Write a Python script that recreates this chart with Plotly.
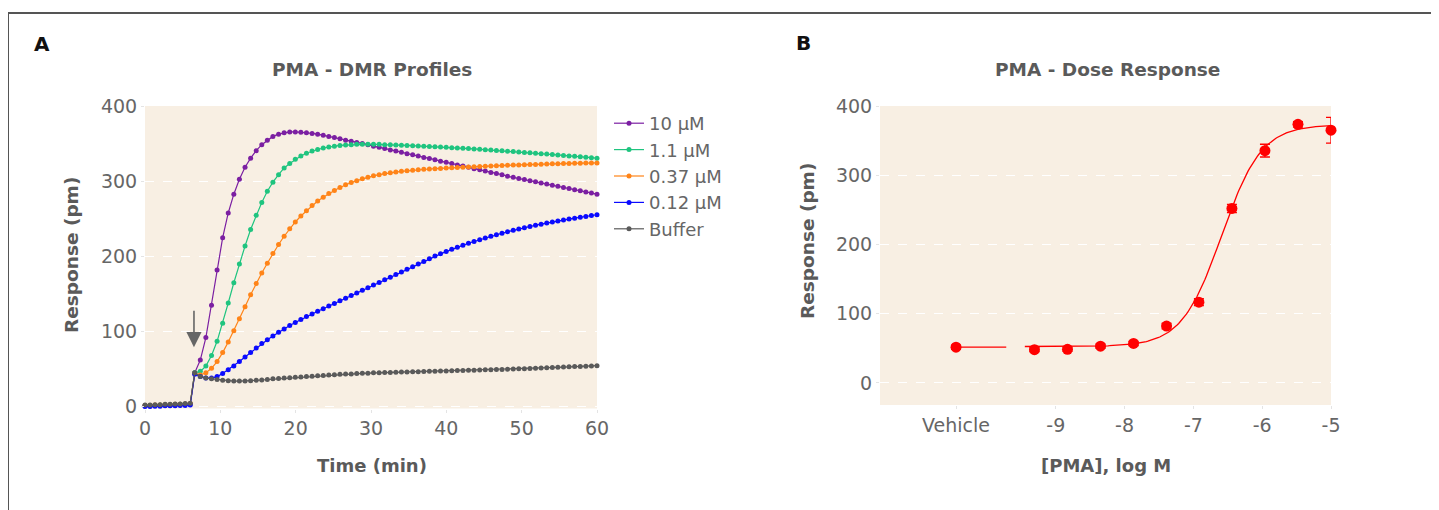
import plotly.graph_objects as go
import numpy as np

# page body has an 8 px margin; the figure is drawn 8 px in from the top-left
OX, OY = 8, 8
W, H = 1431, 502

# ---------------- Panel A data ----------------
time_baseline = [0.0, 0.67, 1.33, 2.0, 2.67, 3.33, 4.0, 4.67, 5.33, 6.0]
time_post = [6.60, 7.34, 8.08, 8.83, 9.57, 10.31, 11.05, 11.79, 12.53, 13.28,
             14.02, 14.76, 15.50, 16.24, 16.98, 17.73, 18.47, 19.21, 19.95, 20.69,
             21.43, 22.18, 22.92, 23.66, 24.40, 25.14, 25.88, 26.63, 27.37, 28.11,
             28.85, 29.59, 30.33, 31.08, 31.82, 32.56, 33.30, 34.04, 34.78, 35.53,
             36.27, 37.01, 37.75, 38.49, 39.23, 39.98, 40.72, 41.46, 42.20, 42.94,
             43.68, 44.43, 45.17, 45.91, 46.65, 47.39, 48.13, 48.88, 49.62, 50.36,
             51.10, 51.84, 52.58, 53.33, 54.07, 54.81, 55.55, 56.29, 57.03, 57.78,
             58.52, 59.26, 60.00]

series_names = ["10 µM", "1.1 µM", "0.37 µM", "0.12 µM", "Buffer"]

pma_10uM_base = [1, 1, 1.5, 1.5, 2, 2, 2.5, 2.5, 3, 3.5]
pma_10uM_post = [45, 62, 92, 135, 182, 225, 258, 283, 303, 319,
                 331, 341, 349, 355, 360, 363, 365, 366, 366, 365.5,
                 365, 364, 363, 361.5, 360, 358.5, 357, 355, 353.5, 352,
                 350.5, 349, 347, 345.5, 344, 342, 340.5, 339, 337, 335.5,
                 334, 332, 330.5, 329, 327, 325.5, 324, 322, 320.5, 319,
                 317, 315.5, 314, 312, 310.5, 309, 307, 305.5, 304, 302.5,
                 301, 299.5, 298, 296.5, 295, 293.5, 292, 290.5, 289, 287.5,
                 286, 284.5, 283]

pma_1_1uM_base = [1, 1.5, 1.5, 2, 2, 2.5, 2.5, 3, 3, 3.5]
pma_1_1uM_post = [45, 47, 54, 68, 87, 111, 138, 165, 190, 214,
                  236, 255, 272, 287, 299, 309, 318, 324, 329.5, 334,
                  337.5, 340.5, 342.5, 344.5, 346, 347, 348, 348.5, 349, 349.5,
                  349.5, 349.5, 349.5, 349.5, 349, 349, 348.5, 348.3, 348, 347.7,
                  347.3, 347, 346.6, 346.3, 346, 345.5, 345, 344.6, 344.2, 343.8,
                  343.3, 342.8, 342.3, 341.8, 341.3, 340.8, 340.3, 339.8, 339.3, 338.7,
                  338.1, 337.5, 337, 336.4, 335.8, 335.2, 334.6, 334, 333.4, 332.8,
                  332.2, 331.6, 331]

pma_0_37uM_base = [1.5, 1.5, 2, 2, 2.5, 2.5, 3, 3, 3.5, 4]
pma_0_37uM_post = [44, 42, 45, 51, 60, 72, 86, 101, 117, 133,
                   149, 164, 178, 191, 204, 216, 227, 237, 246, 254,
                   261, 268, 274, 279, 284, 288, 292, 295.5, 298.5, 301,
                   303.5, 305.5, 307.5, 309, 310.5, 311.5, 312.5, 313.5, 314.3, 315,
                   315.6, 316.1, 316.6, 317, 317.4, 317.8, 318.2, 318.6, 319, 319.3,
                   319.6, 320, 320.3, 320.6, 320.9, 321.2, 321.5, 321.8, 322, 322.3,
                   322.5, 322.7, 323, 323.2, 323.4, 323.6, 323.8, 324, 324.1, 324.3,
                   324.4, 324.5, 324.6]

pma_0_12uM_base = [0, 0, 0.5, 0.5, 1, 1, 1, 1.5, 1.5, 2]
pma_0_12uM_post = [43, 40, 38, 38, 40, 44, 49, 54, 60, 66,
                   72, 78, 84, 89, 94, 99, 103.5, 108, 112, 116,
                   120, 123.5, 127, 130.5, 134, 137.5, 141, 144.5, 148, 151.5,
                   155, 158.5, 162, 165.5, 169, 172.5, 176, 179.5, 183, 186.5,
                   190, 193.5, 197, 200.5, 203.5, 206.5, 209.5, 212.3, 215, 217.6,
                   220, 222.4, 224.7, 226.9, 229, 231, 233, 234.9, 236.7, 238.4,
                   240, 241.6, 243.1, 244.6, 246, 247.3, 248.6, 249.9, 251.1, 252.3,
                   253.4, 254.5, 255.6]

buffer_base = [2, 2, 2.5, 2.5, 3, 3, 3.5, 3.5, 4, 4.5]
buffer_post = [45, 40, 38, 37, 36, 35, 34.5, 34, 34, 34,
               34.5, 35, 35.5, 36, 37, 37.5, 38, 38.5, 39, 39.5,
               40, 40.5, 41, 41.5, 42, 42.5, 43, 43.3, 43.6, 44,
               44.3, 44.6, 45, 45.2, 45.4, 45.6, 45.8, 46, 46.2, 46.4,
               46.6, 46.8, 47, 47.2, 47.4, 47.6, 47.8, 48, 48.2, 48.4,
               48.6, 48.8, 49, 49.2, 49.4, 49.6, 49.8, 50, 50.3, 50.6,
               50.9, 51.2, 51.5, 51.8, 52.1, 52.4, 52.7, 53, 53.3, 53.6,
               53.9, 54.2, 54.5]

series_colors = ["#7b1fa2", "#1fc47f", "#ff8418", "#0a0aff", "#5a5a5a"]

time_ticks = [0, 10, 20, 30, 40, 50, 60]
response_ticks = [0, 100, 200, 300, 400]

injection_time = 6.5
arrow_tip_response = 79

# ---------------- Panel B data ----------------
log_conc = [-9.31, -8.83, -8.35, -7.87, -7.39, -6.92, -6.44, -5.96, -5.48, -5.0]
dose_response = [48, 48.5, 53, 57, 82, 116.5, 252, 335.5, 373.5, 365]
dose_sem = [3, 3, 3, 3, 4, 5, 6, 9.2, 4, 18.5]
vehicle_response = 51.5
vehicle_sem = 3
log_ticks = [-9, -8, -7, -6, -5]
log_tick_labels = ["-9", "-8", "-7", "-6", "-5"]

# four-parameter logistic fit (parameters)
fit_bottom = 52.5
fit_top = 373.0
fit_log_ec50 = -6.59
fit_hill = 1.5
fit_start = -9.45
fit_end = -5.0

# layout positions
vehicle_x = -10.45
vehicle_line_end = -9.72

FONT = "DejaVu Sans"
TICK_COLOR = "#666666"
TITLE_COLOR = "#5a5a5a"
BG = "#f8efe3"

fig = go.Figure()

all_base = [pma_10uM_base, pma_1_1uM_base, pma_0_37uM_base, pma_0_12uM_base, buffer_base]
all_post = [pma_10uM_post, pma_1_1uM_post, pma_0_37uM_post, pma_0_12uM_post, buffer_post]
for name, col, b, p in zip(series_names, series_colors, all_base, all_post):
    fig.add_trace(go.Scatter(
        x=time_baseline + time_post, y=b + p, name=name,
        mode="lines+markers", line=dict(color=col, width=1.2),
        marker=dict(color=col, size=5), cliponaxis=False,
        xaxis="x", yaxis="y"))

# Panel B
fit_x = np.linspace(fit_start, fit_end, 200)
fit_y = fit_bottom + (fit_top - fit_bottom) / (1 + 10 ** ((fit_log_ec50 - fit_x) * fit_hill))
fig.add_trace(go.Scatter(x=fit_x, y=fit_y, mode="lines", line=dict(color="#ff0000", width=1.3),
                         showlegend=False, xaxis="x2", yaxis="y2", cliponaxis=False))
fig.add_trace(go.Scatter(x=[vehicle_x, vehicle_line_end], y=[vehicle_response, vehicle_response],
                         mode="lines", line=dict(color="#ff0000", width=1.3),
                         showlegend=False, xaxis="x2", yaxis="y2"))
fig.add_trace(go.Scatter(x=[vehicle_x] + log_conc, y=[vehicle_response] + dose_response,
                         mode="markers", marker=dict(color="#ff0000", size=11),
                         error_y=dict(type="data", array=[vehicle_sem] + dose_sem,
                                      color="#ff0000", thickness=1.3, width=5),
                         showlegend=False, xaxis="x2", yaxis="y2", cliponaxis=False))

def fx(p):
    return (p - OX) / W

def fy(p):
    return 1 - (p - OY) / H

tickfont = dict(family=FONT, size=19, color=TICK_COLOR)
axis_common = dict(showline=False, zeroline=False, ticks="outside", ticklen=3,
                   tickcolor="#e4e4e4", tickfont=tickfont, automargin=False)

fig.update_layout(
    width=W, height=H, margin=dict(l=0, r=0, t=0, b=0),
    paper_bgcolor="white", plot_bgcolor=BG,
    xaxis=dict(domain=[fx(145), fx(597)], range=[0, 60], tickvals=time_ticks,
               showgrid=False, anchor="y", **axis_common),
    yaxis=dict(domain=[fy(408.5), fy(106)], range=[-2.5, 400.5], tickvals=response_ticks,
               showgrid=True, gridcolor="white", griddash="dash", gridwidth=1,
               anchor="x", **axis_common),
    xaxis2=dict(domain=[fx(880), fx(1331)], range=[-11.555, -5.0],
                tickvals=[vehicle_x] + log_ticks, ticktext=["Vehicle"] + log_tick_labels,
                showgrid=False, anchor="y2", **axis_common),
    yaxis2=dict(domain=[fy(405), fy(106)], range=[-32, 400], tickvals=response_ticks,
                showgrid=True, gridcolor="white", griddash="dash", gridwidth=1,
                anchor="x2", **axis_common),
    legend=dict(x=fx(609), y=fy(105), xanchor="left", yanchor="top",
                font=dict(family=FONT, size=18, color=TICK_COLOR),
                bgcolor="rgba(0,0,0,0)", borderwidth=0),
    font=dict(family=FONT),
)

annots = [
    dict(text="<b>A</b>", x=fx(42), y=fy(44), font=dict(size=20, color="#111111")),
    dict(text="<b>B</b>", x=fx(803), y=fy(43), font=dict(size=20, color="#111111")),
    dict(text="<b>PMA - DMR Profiles</b>", x=fx(372), y=fy(69), font=dict(size=18.5, color=TITLE_COLOR)),
    dict(text="<b>PMA - Dose Response</b>", x=fx(1107), y=fy(69), font=dict(size=18.5, color=TITLE_COLOR)),
    dict(text="<b>Time (min)</b>", x=fx(372), y=fy(465), font=dict(size=18, color=TITLE_COLOR)),
    dict(text="<b>[PMA], log M</b>", x=fx(1106), y=fy(465), font=dict(size=18, color=TITLE_COLOR)),
    dict(text="<b>Response (pm)</b>", x=fx(71), y=fy(255), textangle=-90, font=dict(size=18.5, color=TITLE_COLOR)),
    dict(text="<b>Response (pm)</b>", x=fx(807), y=fy(241), textangle=-90, font=dict(size=18.5, color=TITLE_COLOR)),
]
for a in annots:
    a.update(xref="paper", yref="paper", showarrow=False, xanchor="center", yanchor="middle")
    a["font"]["family"] = FONT
    fig.add_annotation(**a)

fig.add_annotation(x=injection_time, y=arrow_tip_response, xref="x", yref="y",
                   ax=0, ay=-38, showarrow=True, arrowhead=2, arrowsize=1.9,
                   arrowwidth=1.6, arrowcolor="#666666", text="")

# frame lines (top and left)
fig.add_shape(type="line", xref="paper", yref="paper", x0=fx(8), x1=1, y0=fy(13), y1=fy(13),
              line=dict(color="#555555", width=2))
fig.add_shape(type="line", xref="paper", yref="paper", x0=fx(8), x1=fx(8), y0=fy(13), y1=0,
              line=dict(color="#555555", width=2))

fig.write_html("out.html")
